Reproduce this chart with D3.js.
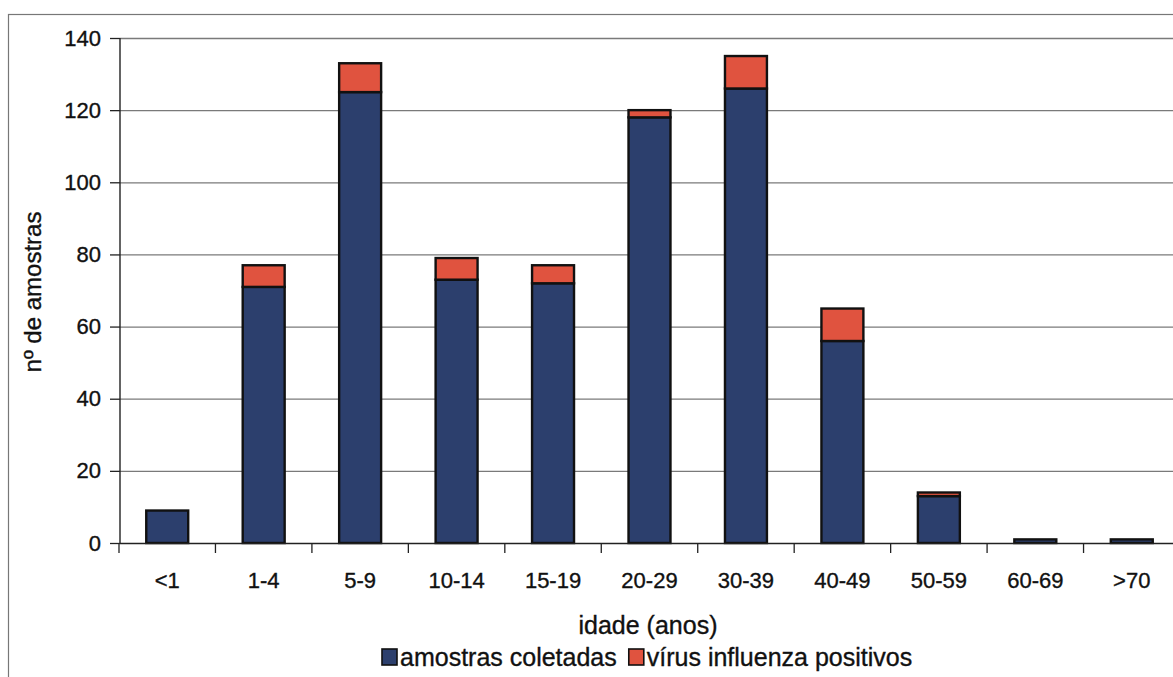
<!DOCTYPE html>
<html>
<head>
<meta charset="utf-8">
<script src="https://cdn.jsdelivr.net/npm/d3@7"></script>
<style>
  html, body { margin: 0; padding: 0; background: #fff; }
  svg { display: block; font-family: "Liberation Sans", Arial, sans-serif; }
  text { stroke: #111; stroke-width: 0.35px; }
</style>
</head>
<body>
<svg id="chart" width="1173" height="677"></svg>
<script>
const categories = ["<1", "1-4", "5-9", "10-14", "15-19", "20-29", "30-39", "40-49", "50-59", "60-69", ">70"];
const amostrasColetadas = [9, 71, 125, 73, 72, 118, 126, 56, 13, 1, 1];
const virusPositivos = [0, 6, 8, 6, 5, 2, 9, 9, 1, 0, 0];
const yTicks = [0, 20, 40, 60, 80, 100, 120, 140];
const seriesNames = ["amostras coletadas", "vírus influenza positivos"];
const seriesColors = ["#2c3f6d", "#e0533f"];

const svg = d3.select("#chart");
const W = 1173, H = 677;
const plot = { left: 119, right: 1180, top: 38, bottom: 543 };

// outer frame
svg.append("rect").attr("x", 8.5).attr("y", 14.5).attr("width", W + 20).attr("height", H + 20)
  .attr("fill", "none").attr("stroke", "#777").attr("stroke-width", 1.2);

const x = d3.scaleBand().domain(categories).range([plot.left, plot.right])
  .paddingInner(0.565).paddingOuter(0.2825);
const y = d3.scaleLinear().domain([0, 140]).range([plot.bottom, plot.top]);

// gridlines
svg.append("g").selectAll("line").data(yTicks.filter(d => d > 0)).join("line")
  .attr("x1", plot.left + 1).attr("x2", plot.right)
  .attr("y1", d => y(d) + 0.5).attr("y2", d => y(d) + 0.5)
  .attr("stroke", "#7a7a7a").attr("stroke-width", 1.3);

// stacked data
const data = categories.map((c, i) => ({ cat: c, a: amostrasColetadas[i], v: virusPositivos[i] }));
const stack = d3.stack().keys(["a", "v"])(data);

svg.append("g").selectAll("g").data(stack).join("g")
  .attr("fill", (d, i) => seriesColors[i])
  .selectAll("rect").data(d => d.filter(s => s[1] - s[0] > 0)).join("rect")
  .attr("x", d => x(d.data.cat))
  .attr("width", x.bandwidth())
  .attr("y", d => y(d[1]))
  .attr("height", d => y(d[0]) - y(d[1]))
  .attr("stroke", "#111").attr("stroke-width", 2.4);

// y axis
const yAxis = d3.axisLeft(y).tickValues(yTicks).tickSize(10).tickPadding(9);
const gy = svg.append("g").attr("transform", `translate(${plot.left + 1},0)`).call(yAxis);
gy.select(".domain").attr("stroke", "#222").attr("stroke-width", 1.4).attr("d", `M-0,${plot.top}V${plot.bottom}`);
gy.selectAll(".tick line").attr("stroke", "#222").attr("stroke-width", 1.3);
gy.selectAll(".tick text").attr("font-size", 22).attr("fill", "#111").attr("font-family", "Liberation Sans, Arial, sans-serif");

// x axis baseline
svg.append("line").attr("x1", plot.left + 1).attr("x2", plot.right)
  .attr("y1", y(0) + 0.5).attr("y2", y(0) + 0.5).attr("stroke", "#222").attr("stroke-width", 1.6);

// x ticks at band boundaries
const step = x.step();
const gap = (step - x.bandwidth()) / 2;
svg.append("g").selectAll("line").data(categories).join("line")
  .attr("x1", d => x(d) - gap).attr("x2", d => x(d) - gap)
  .attr("y1", y(0)).attr("y2", y(0) + 10)
  .attr("stroke", "#222").attr("stroke-width", 1.3);

// x labels
svg.append("g").selectAll("text").data(categories).join("text")
  .attr("x", d => x(d) + x.bandwidth() / 2).attr("y", 588)
  .attr("text-anchor", "middle").attr("font-size", 22).attr("fill", "#111")
  .text(d => d);

// axis titles
svg.append("text").attr("x", 648).attr("y", 634).attr("text-anchor", "middle")
  .attr("font-size", 25).attr("fill", "#111").text("idade (anos)");
svg.append("text").attr("transform", `translate(41,292) rotate(-90)`).attr("text-anchor", "middle")
  .attr("font-size", 24).attr("fill", "#111").text("nº de amostras");

// legend
const leg = svg.append("g");
let lx = 382;
seriesNames.forEach((name, i) => {
  leg.append("rect").attr("x", lx).attr("y", 649).attr("width", 15).attr("height", 16)
    .attr("fill", seriesColors[i]).attr("stroke", "#111").attr("stroke-width", 1.6);
  const t = leg.append("text").attr("x", lx + 18).attr("y", 666).attr("font-size", 25)
    .attr("fill", "#111").text(name);
  lx += 18 + t.node().getComputedTextLength() + 12;
});
</script>
</body>
</html>
